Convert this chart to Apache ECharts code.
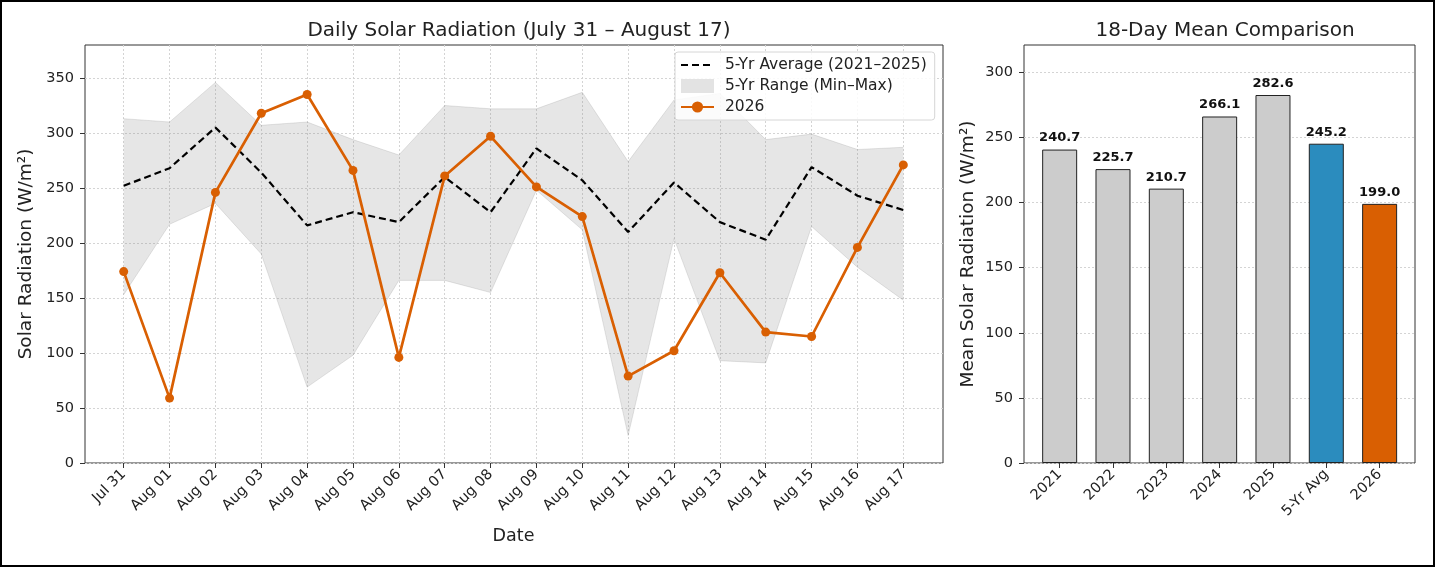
<!DOCTYPE html>
<html>
<head>
<meta charset="utf-8">
<script src="https://cdn.jsdelivr.net/npm/echarts@6/dist/echarts.min.js"></script>
<style>
html, body { margin: 0; padding: 0; background: #fff; }
#main { width: 1436px; height: 568px; }
</style>
</head>
<body>
<div id="main"></div>
<script>
// 日期
var dates = ['Jul 31', 'Aug 01', 'Aug 02', 'Aug 03', 'Aug 04', 'Aug 05', 'Aug 06', 'Aug 07', 'Aug 08',
             'Aug 09', 'Aug 10', 'Aug 11', 'Aug 12', 'Aug 13', 'Aug 14', 'Aug 15', 'Aug 16', 'Aug 17'];
// 5年最大/最小
var rangeMax = [313, 310, 346, 307, 310, 294, 280, 325, 322, 322, 337, 274, 330, 336, 294, 299, 285, 287];
var rangeMin = [153, 217, 236, 190, 69, 98, 166, 166, 155, 248, 212, 25, 204, 93, 91, 215, 178, 148];
// 5年平均
var avg5 = [252, 268, 305, 264, 216, 228, 219, 260, 228, 286, 257, 210, 255, 219, 203, 269, 243, 230];
// 2026
var y2026 = [174, 59, 246, 318, 335, 266, 96, 261, 297, 251, 224, 79, 102, 173, 119, 115, 196, 271];
// 右图：18天均值
var barCats = ['2021', '2022', '2023', '2024', '2025', '5-Yr Avg', '2026'];
var barVals = [240.7, 225.7, 210.7, 266.1, 282.6, 245.2, 199.0];
// 刻度
var leftTicks = [0, 50, 100, 150, 200, 250, 300, 350];
var rightTicks = [0, 50, 100, 150, 200, 250, 300];

var FONT = 'DejaVu Sans';
var ORANGE = '#d95f02';
var BLUE = '#2b8cbe';
var GREY_BAR = '#cccccc';
var TXT = '#222';

var rangeBand = [];
for (var i = 0; i < rangeMax.length; i++) {
	rangeBand[i] = rangeMax[i] - rangeMin[i];
}
var barColor = function (name) {
	if (name == '2026') return ORANGE;
	if (name == '5-Yr Avg') return BLUE;
	return GREY_BAR;
};

var myChart = echarts.init(document.getElementById('main'), null, {renderer: 'canvas'});

var dotted = {show: true, lineStyle: {color: '#d4d4d4', type: [2, 2], width: 1}};
var catTick = {show: true, alignWithLabel: true, length: 5, interval: 0, lineStyle: {color: '#333'}};
var catLabel = {color: TXT, fontFamily: FONT, fontSize: 14.5, rotate: 45, interval: 0, margin: 9};

var option = {
	animation: false,
	textStyle: {fontFamily: FONT},
	title: [
		{text: 'Daily Solar Radiation (July 31 – August 17)', left: 514, top: 16, textAlign: 'center',
			textStyle: {fontFamily: FONT, fontSize: 20, fontWeight: 'normal', color: TXT}},
		{text: '18-Day Mean Comparison', left: 1220, top: 16, textAlign: 'center',
			textStyle: {fontFamily: FONT, fontSize: 20, fontWeight: 'normal', color: TXT}}
	],
	graphic: [
		{type: 'rect', shape: {x: 1, y: 1, width: 1433, height: 565}, silent: true,
			style: {fill: 'none', stroke: '#000', lineWidth: 2}}
	],
	legend: {
		orient: 'vertical', left: 675, top: 52,
		backgroundColor: 'rgba(255,255,255,0.85)', borderColor: '#d6d6d6', borderWidth: 1, borderRadius: 3,
		padding: [5, 8, 5, 5], itemGap: 5, itemWidth: 33, itemHeight: 14,
		textStyle: {fontFamily: FONT, fontSize: 15.5, color: TXT, padding: [0, 0, 0, 6]},
		data: [
			{name: '5-Yr Average (2021–2025)', itemStyle: {opacity: 0}},
			{name: '5-Yr Range (Min–Max)', icon: 'rect', itemStyle: {color: 'rgba(128,128,128,0.22)'}},
			{name: '2026'}
		]
	},
	grid: [
		//左图外框
		{left: 85, top: 45, width: 858, height: 418, show: true, borderColor: '#333', borderWidth: 1, backgroundColor: 'transparent'},
		//左图数据区
		{left: 123.7, top: 45, width: 779.6, height: 418},
		//右图外框
		{left: 1024, top: 45, width: 391, height: 418, show: true, borderColor: '#333', borderWidth: 1, backgroundColor: 'transparent'},
		//右图数据区
		{left: 1033, top: 45, width: 373.3, height: 418}
	],
	xAxis: [
		{gridIndex: 0, type: 'value', min: 0, max: 1, show: false},
		{gridIndex: 1, type: 'category', data: dates, boundaryGap: false,
			axisLine: {show: false}, axisTick: catTick, axisLabel: catLabel,
			splitLine: {show: true, interval: 0, lineStyle: {color: '#d4d4d4', type: [2, 2], width: 1}},
			name: 'Date', nameLocation: 'middle', nameGap: 64,
			nameTextStyle: {fontFamily: FONT, fontSize: 17.5, color: TXT}},
		{gridIndex: 2, type: 'value', min: 0, max: 1, show: false},
		{gridIndex: 3, type: 'category', data: barCats,
			axisLine: {show: false}, axisTick: catTick, axisLabel: catLabel,
			splitLine: {show: false}}
	],
	yAxis: [
		{gridIndex: 0, type: 'value', min: 0, max: 380,
			axisLine: {show: false},
			axisTick: {show: true, length: 5, lineStyle: {color: '#333'}, customValues: leftTicks},
			axisLabel: {color: TXT, fontFamily: FONT, fontSize: 14.5, margin: 11, customValues: leftTicks},
			splitLine: dotted,
			name: 'Solar Radiation (W/m²)', nameLocation: 'middle', nameGap: 43,
			nameTextStyle: {fontFamily: FONT, fontSize: 18.5, color: TXT}},
		{gridIndex: 1, type: 'value', min: 0, max: 380, show: false},
		{gridIndex: 2, type: 'value', min: 0, max: 321,
			axisLine: {show: false},
			axisTick: {show: true, length: 5, lineStyle: {color: '#333'}, customValues: rightTicks},
			axisLabel: {color: TXT, fontFamily: FONT, fontSize: 14.5, margin: 11, customValues: rightTicks},
			splitLine: dotted,
			name: 'Mean Solar Radiation (W/m²)', nameLocation: 'middle', nameGap: 46,
			nameTextStyle: {fontFamily: FONT, fontSize: 18.5, color: TXT}},
		{gridIndex: 3, type: 'value', min: 0, max: 321, show: false}
	],
	series: [
		{name: 'rangeBase', type: 'line', xAxisIndex: 1, yAxisIndex: 1, stack: 'range',
			data: rangeMin, symbol: 'none', silent: true,
			lineStyle: {color: 'rgba(128,128,128,0.2)', width: 1}},
		{name: '5-Yr Range (Min–Max)', type: 'line', xAxisIndex: 1, yAxisIndex: 1, stack: 'range',
			data: rangeBand, symbol: 'none', silent: true,
			lineStyle: {color: 'rgba(128,128,128,0.2)', width: 1},
			itemStyle: {color: 'rgba(128,128,128,0.22)'},
			areaStyle: {color: 'rgba(128,128,128,0.2)', opacity: 1}},
		{name: '5-Yr Average (2021–2025)', type: 'line', xAxisIndex: 1, yAxisIndex: 1,
			data: avg5, symbol: 'none', itemStyle: {color: '#000'},
			lineStyle: {color: '#000', width: 2.2, type: [7, 4]}},
		{name: '2026', type: 'line', xAxisIndex: 1, yAxisIndex: 1,
			data: y2026, symbol: 'circle', symbolSize: 9,
			itemStyle: {color: ORANGE}, lineStyle: {color: ORANGE, width: 2.7}},
		{name: 'means', type: 'bar', xAxisIndex: 3, yAxisIndex: 3,
			data: barVals, barWidth: 35,
			itemStyle: {borderColor: '#222', borderWidth: 1,
				color: function (p) { return barColor(p.name); }},
			label: {show: true, position: 'top', distance: 5, color: '#111',
				fontFamily: FONT, fontSize: 13, fontWeight: 'bold',
				formatter: function (p) { return p.value.toFixed(1); }}}
	]
};
myChart.setOption(option);
</script>
</body>
</html>
